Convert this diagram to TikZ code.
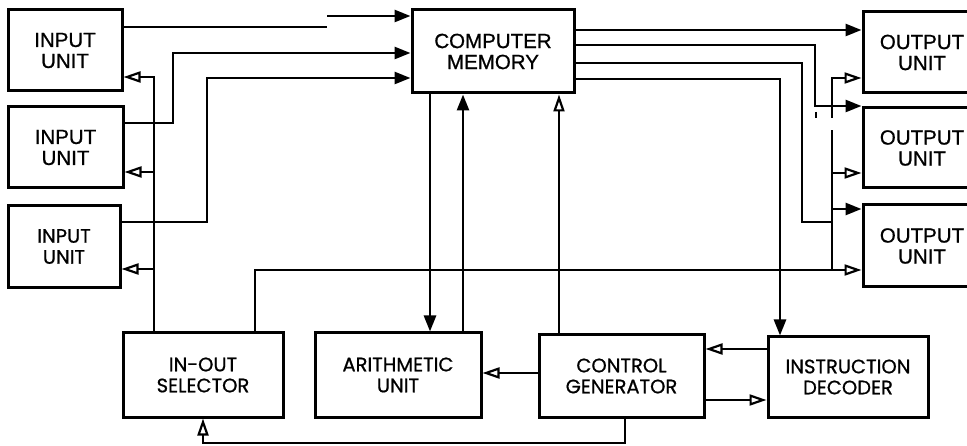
\documentclass[tikz,border=0pt]{standalone}
\usepackage{fontspec}
\setmainfont{Liberation Sans}
\newfontfamily\topfont{Liberation Sans}[FakeBold=0.8]
\newfontfamily\geofont{Poppins}[FakeBold=0.8]
\usetikzlibrary{arrows.meta}
\begin{document}
\begin{tikzpicture}[x=1pt,y=-1pt,
  blk/.style={draw, line width=3pt, inner sep=0pt, align=center, font=\topfont\fontsize{20.5}{21}\selectfont},
  geo/.style={font=\geofont\fontsize{19.5}{21}\selectfont},
  ln/.style={line width=2.7pt},
  arrf/.style={ln, -{Triangle[length=16pt,width=12pt]}},
  arro/.style={ln, -{Triangle[open,length=17pt,width=11pt,line width=2.2pt]}},
]
\clip (0,0) rectangle (967,446);
% boxes
\node[blk, minimum width=114pt, minimum height=81pt] (iu1) at (65,50.5) {INPUT\\UNIT};
\node[blk, minimum width=115pt, minimum height=81pt] (iu2) at (65.5,147.5) {INPUT\\UNIT};
\node[blk, geo, minimum width=112pt, minimum height=82pt] (iu3) at (64,246.5) {INPUT\\UNIT};
\node[blk, minimum width=162pt, minimum height=83pt] (mem) at (493,51.5) {COMPUTER\\MEMORY};
\node[blk, minimum width=118pt, minimum height=81pt] (ou1) at (922,52.5) {OUTPUT\\UNIT};
\node[blk, minimum width=118pt, minimum height=80pt] (ou2) at (922,148) {OUTPUT\\UNIT};
\node[blk, minimum width=118pt, minimum height=82pt] (ou3) at (922,246) {OUTPUT\\UNIT};
\node[blk, geo, minimum width=160pt, minimum height=84pt] (ios) at (203,375) {IN-OUT\\SELECTOR};
\node[blk, geo, minimum width=166pt, minimum height=84pt] (au) at (398,375) {ARITHMETIC\\UNIT};
\node[blk, geo, minimum width=165pt, minimum height=82pt] (cg) at (621.5,376) {CONTROL\\GENERATOR};
\node[blk, geo, minimum width=160pt, minimum height=80pt] (id) at (848,377) {INSTRUCTION\\DECODER};
% inputs to memory
\coordinate (j1) at (327,27);
\coordinate (j2) at (327,16);
\draw[ln] (iu1.east |- j1) -- (j1);
\draw[arrf] (j2) -- (mem.west |- j2);
\draw[arrf] (iu2.east |- 0,123) -- (173,123) -- (173,53) -- (mem.west |- 0,53);
\draw[arrf] (iu3.east |- 0,222) -- (207,222) -- (207,78) -- (mem.west |- 0,78);
% selector to input units
\draw[arro] (ios.north -| 154,0) -- (154,77) -- (iu1.east |- 0,77);
\draw[arro] (154,172) -- (iu2.east |- 0,172);
\draw[arro] (154,269) -- (iu3.east |- 0,269);
% selector to output units
\draw[arro] (ios.north -| 255,0) -- (255,270) -- (ou3.west |- 0,270);
\draw[ln] (832,270) -- (832,130);
\draw[arro] (832,118) -- (832,78) -- (ou1.west |- 0,78);
\draw[arro] (832,173) -- (ou2.west |- 0,173);
% memory <-> arithmetic, control
\draw[arrf] (mem.south -| 430,0) -- (au.north -| 430,0);
\draw[arrf] (au.north -| 463,0) -- (mem.south -| 463,0);
\draw[arro] (cg.north -| 559,0) -- (mem.south -| 559,0);
% memory to outputs
\draw[arrf] (mem.east |- 0,30) -- (ou1.west |- 0,30);
\draw[arrf] (mem.east |- 0,45) -- (815,45) -- (815,106) -- (ou2.west |- 0,106);
\draw[ln] (816,112) -- (816,118);
\draw[ln] (mem.east |- 0,63) -- (802,63) -- (802,222) -- (832,222);
\draw[arrf] (832,209) -- (ou3.west |- 0,209);
\draw[arrf] (mem.east |- 0,79) -- (780,79) -- (id.north -| 780,0);
% control
\draw[arro] (cg.west |- 0,373) -- (au.east |- 0,373);
\draw[arro] (id.west |- 0,349) -- (cg.east |- 0,349);
\draw[arro] (cg.east |- 0,400) -- (id.west |- 0,400);
\draw[arro] (cg.south -| 625,0) -- (625,443) -- (203,443) -- (ios.south -| 203,0);
\end{tikzpicture}
\end{document}
